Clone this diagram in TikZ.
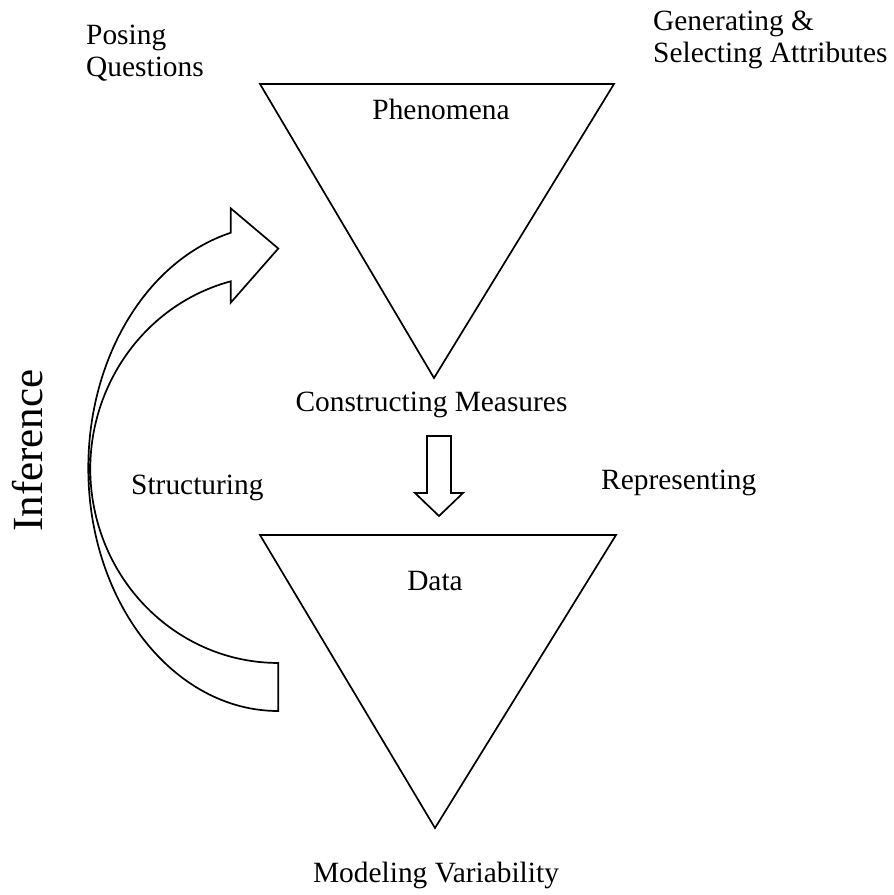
\documentclass[tikz,border=0pt]{standalone}
\usepackage{fontspec}
\setmainfont{Liberation Serif}
\begin{document}
\begin{tikzpicture}[x=1pt,y=-1pt,
  shape line/.style={draw=black,line width=1.7pt,line join=miter},
  lbl/.style={inner sep=0pt,font=\fontsize{29.4}{32}\selectfont,text=black},
  biglbl/.style={inner sep=0pt,font=\fontsize{43}{46}\selectfont,text=black}]
\useasboundingbox (0,0) rectangle (894,895);
% triangles
\coordinate (t1a) at (260,84);
\coordinate (t1b) at (614,84);
\coordinate (t1c) at (434,378);
\draw[shape line] (t1a) -- (t1b) -- (t1c) -- cycle;
\coordinate (t2a) at (260,535);
\coordinate (t2b) at (616,535);
\coordinate (t2c) at (435,828);
\draw[shape line] (t2a) -- (t2b) -- (t2c) -- cycle;
% down block arrow
\draw[shape line] (427,436) -- (451,436) -- (451,493) -- (463,493) -- (439,516)
  -- (415,493) -- (427,493) -- cycle;
% curved block arrow
\draw[shape line] (278.3,711)
  arc[start angle=90, end angle=255.5, x radius=190, y radius=243]
  -- (230.7,208.3) -- (278.3,248.5) -- (230.7,302.7) -- (230.7,281.3)
  arc[start angle=255.33, end angle=90, x radius=188, y radius=194]
  -- cycle;
% labels
\node[lbl,anchor=base west] (pos1) at (86,44) {Posing};
\node[lbl,anchor=base west] (pos2) at (86,76) {Questions};
\node[lbl,anchor=base west] (gen1) at (653,30) {Generating \&};
\node[lbl,anchor=base west] (gen2) at (653,62) {Selecting Attributes};
\node[lbl,anchor=base] (phen) at (441,119) {Phenomena};
\node[lbl,anchor=base] (cons) at (431.5,411) {Constructing Measures};
\node[lbl,anchor=base west] (struc) at (131,494) {Structuring};
\node[lbl,anchor=base west] (repr) at (601,489) {Representing};
\node[lbl,anchor=base] (data) at (435,590) {Data};
\node[lbl,anchor=base] (model) at (436,882) {Modeling Variability};
\node[biglbl,anchor=base,rotate=90] (infer) at (42,450.5) {Inference};
\end{tikzpicture}
\end{document}
